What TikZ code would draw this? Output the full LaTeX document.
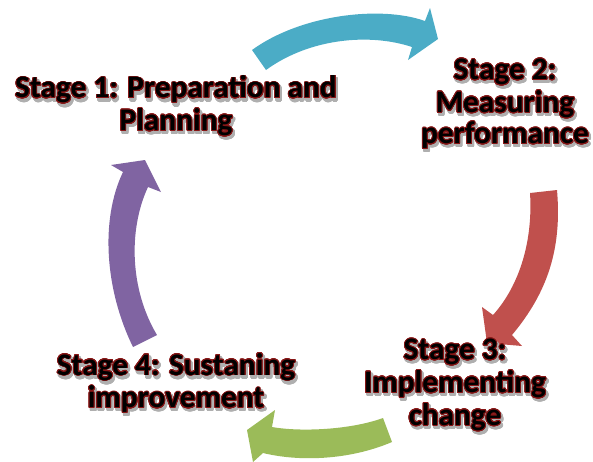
\documentclass[tikz,border=0pt]{standalone}
\usepackage{fontspec}
\setmainfont{Carlito}
\usepackage{contour}
\contournumber{24}
\usetikzlibrary{calc}

\definecolor{cycleteal}{RGB}{75,172,198}
\definecolor{cyclered}{RGB}{192,80,77}
\definecolor{cyclegreen}{RGB}{155,187,89}
\definecolor{cyclepurple}{RGB}{128,100,162}
\definecolor{stageoutline}{RGB}{135,22,22}
\definecolor{stageshade}{RGB}{175,175,175}

% one line of a stage caption: soft grey shadow, dark red rim, black face
\newcommand\stline[1]{\leavevmode
  \rlap{\kern1.3pt\raisebox{-2pt}{\contourlength{1.1pt}\color{stageshade}\contour{stageshade}{#1}}}%
  {\contourlength{0.65pt}\contour{stageoutline}{#1}}}

\tikzset{
  stagetext/.style={align=center, inner sep=0pt, text=black,
    font=\fontsize{23.5}{23.5}\selectfont\bfseries},
  cyclearrow/.style={draw=none},
}

\begin{document}
\begin{tikzpicture}[x=0.75pt,y=-0.75pt]
\useasboundingbox (0,0) rectangle (593,461);

% top arrow: stage 1 -> stage 2
\fill[cyclearrow, cycleteal] (252,50) .. controls (300,15) and (380,5) .. (425,21)
  -- (430,8) -- (438,39) -- (408,60) -- (412,47)
  .. controls (370,33) and (310,38) .. (266,70) -- cycle;

% right arrow: stage 2 -> stage 3
\fill[cyclearrow, cyclered] (557,190) .. controls (562,248) and (548,292) .. (512,335)
  -- (522,346) -- (487,343) -- (482,307) -- (493,315)
  .. controls (520,285) and (533,240) .. (530,193) -- cycle;

% bottom arrow: stage 3 -> stage 4
\fill[cyclearrow, cyclegreen] (383,418) .. controls (350,430) and (300,432) .. (272,427)
  -- (275,410) -- (247,430) -- (253,462) -- (263,453)
  .. controls (300,462) and (350,460) .. (392,442) -- cycle;

% left arrow: stage 4 -> stage 1
\fill[cyclearrow, cyclepurple] (133,347) .. controls (105,290) and (100,220) .. (123,172)
  -- (111,165) -- (145,160) -- (161,192) -- (148,187)
  .. controls (128,230) and (130,290) .. (157,335) -- cycle;

% stage captions
\node[stagetext] (stage1) at (176,108) {\stline{Stage 1: Preparation and}\\\stline{Planning}};
\node[stagetext] (stage2) at (505,106) {\stline{Stage 2:}\\\stline{Measuring}\\\stline{performance}};
\node[stagetext] (stage3) at (455,387) {\stline{Stage 3:}\\\stline{Implementing}\\\stline{change}};
\node[stagetext] (stage4) at (176,385) {\stline{Stage 4: Sustaning}\\\stline{improvement}};
\end{tikzpicture}
\end{document}
